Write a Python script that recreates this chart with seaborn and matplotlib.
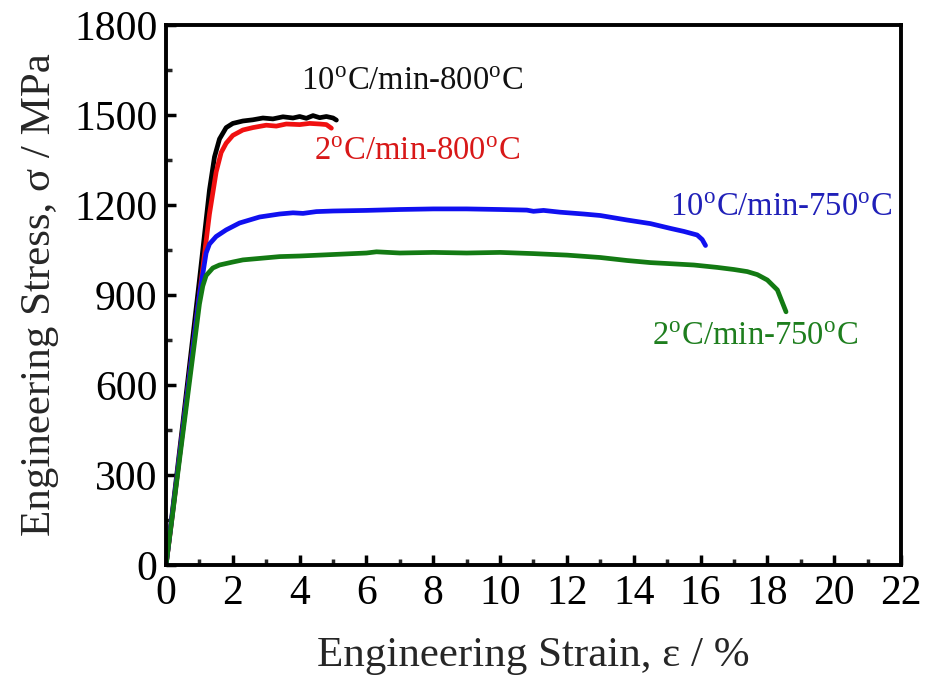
import matplotlib
matplotlib.use("Agg")
import matplotlib.pyplot as plt
import seaborn as sns
import pandas as pd
from matplotlib.ticker import MultipleLocator

# 10°C/min - 800°C (black)
strain_10_800 = [0, 0.15, 0.5, 1.0, 1.3, 1.45, 1.6, 1.8, 2.0, 2.3, 2.6, 2.9, 3.2, 3.5,
                 3.8, 4.0, 4.2, 4.4, 4.6, 4.8, 5.0, 5.1]
stress_10_800 = [0, 140, 470, 950, 1250, 1360, 1420, 1458, 1472, 1480, 1484, 1490, 1487,
                 1494, 1490, 1495, 1489, 1498, 1491, 1495, 1490, 1483]

# 2°C/min - 800°C (red)
strain_2_800 = [0, 0.15, 0.5, 1.0, 1.3, 1.5, 1.65, 1.8, 2.0, 2.3, 2.6, 3.0, 3.3, 3.6,
                4.0, 4.3, 4.6, 4.8, 4.95]
stress_2_800 = [0, 130, 450, 900, 1170, 1310, 1375, 1406, 1432, 1450, 1458, 1466, 1463,
                1470, 1468, 1472, 1470, 1468, 1456]

# 10°C/min - 750°C (blue)
strain_10_750 = [0, 0.15, 0.5, 1.0, 1.2, 1.3, 1.5, 1.8, 2.2, 2.8, 3.4, 3.8, 4.1, 4.5,
                 5.0, 6.0, 7.0, 8.0, 9.0, 10.0, 10.8, 11.0, 11.3, 11.8, 12.5, 13.0,
                 13.8, 14.5, 15.1, 15.5, 15.9, 16.05, 16.15]
stress_10_750 = [0, 135, 450, 900, 1040, 1070, 1095, 1117, 1140, 1160, 1170, 1174, 1172,
                 1178, 1180, 1182, 1185, 1187, 1187, 1185, 1183, 1179, 1182, 1176, 1170,
                 1165, 1150, 1138, 1122, 1112, 1100, 1085, 1065]

# 2°C/min - 750°C (green)
strain_2_750 = [0, 0.15, 0.5, 1.0, 1.1, 1.2, 1.4, 1.6, 2.0, 2.3, 2.8, 3.4, 4.0, 5.0,
                6.0, 6.3, 7.0, 8.0, 9.0, 10.0, 11.0, 12.0, 13.0, 13.8, 14.5, 15.0,
                15.8, 16.5, 17.0, 17.4, 17.7, 18.0, 18.3, 18.56]
stress_2_750 = [0, 130, 435, 870, 930, 965, 990, 1000, 1010, 1017, 1022, 1028, 1030, 1035,
                1040, 1044, 1040, 1042, 1040, 1042, 1038, 1033, 1025, 1015, 1008, 1005,
                1000, 992, 985, 978, 968, 950, 917, 844]

series = [
    (strain_10_800, stress_10_800, "#000000"),
    (strain_2_800, stress_2_800, "#f01010"),
    (strain_10_750, stress_10_750, "#1010f0"),
    (strain_2_750, stress_2_750, "#137a13"),
]

labels = [
    (4.04, 1583, "10$^\\mathregular{o}$C/min-800$^\\mathregular{o}$C", "#111111"),
    (4.44, 1350, "2$^\\mathregular{o}$C/min-800$^\\mathregular{o}$C", "#d81818"),
    (15.1, 1163, "10$^\\mathregular{o}$C/min-750$^\\mathregular{o}$C", "#2020b8"),
    (14.55, 733, "2$^\\mathregular{o}$C/min-750$^\\mathregular{o}$C", "#1e7e1e"),
]

sns.set_theme(style="ticks")
plt.rcParams["font.family"] = ["Liberation Serif", "DejaVu Serif"]
plt.rcParams["mathtext.fontset"] = "stix"

fig = plt.figure(figsize=(9.25, 6.81), dpi=100)
ax = fig.add_axes([0.1795, 0.1703, 0.7945, 0.793])

for x, y, color in series:
    df = pd.DataFrame({"strain": x, "stress": y})
    sns.lineplot(data=df, x="strain", y="stress", sort=False, estimator=None,
                 color=color, linewidth=3.4, ax=ax)

for x, y, text, color in labels:
    ax.text(x, y, text, color=color, fontsize=23.5, ha="left", va="baseline")

ax.set_xlim(0, 22)
ax.set_ylim(0, 1800)
ax.xaxis.set_major_locator(MultipleLocator(2))
ax.xaxis.set_minor_locator(MultipleLocator(1))
ax.yaxis.set_major_locator(MultipleLocator(300))
ax.yaxis.set_minor_locator(MultipleLocator(150))

for side in ["left", "bottom", "top", "right"]:
    ax.spines[side].set_linewidth(2.8)
    ax.spines[side].set_color("black")

ax.tick_params(axis="both", which="major", direction="in", length=7, width=2.5,
               labelsize=30, colors="black")
ax.tick_params(axis="both", which="minor", direction="in", length=4.5, width=2.5)
ax.tick_params(axis="x", which="major", pad=7)
ax.tick_params(axis="y", which="major", pad=6)

ax.set_xlabel("Engineering Strain, ε / %", fontsize=31, labelpad=17)
ax.set_ylabel("Engineering Stress, σ / MPa", fontsize=31, labelpad=11)

plt.savefig("out.png", dpi=100)
plt.close()
